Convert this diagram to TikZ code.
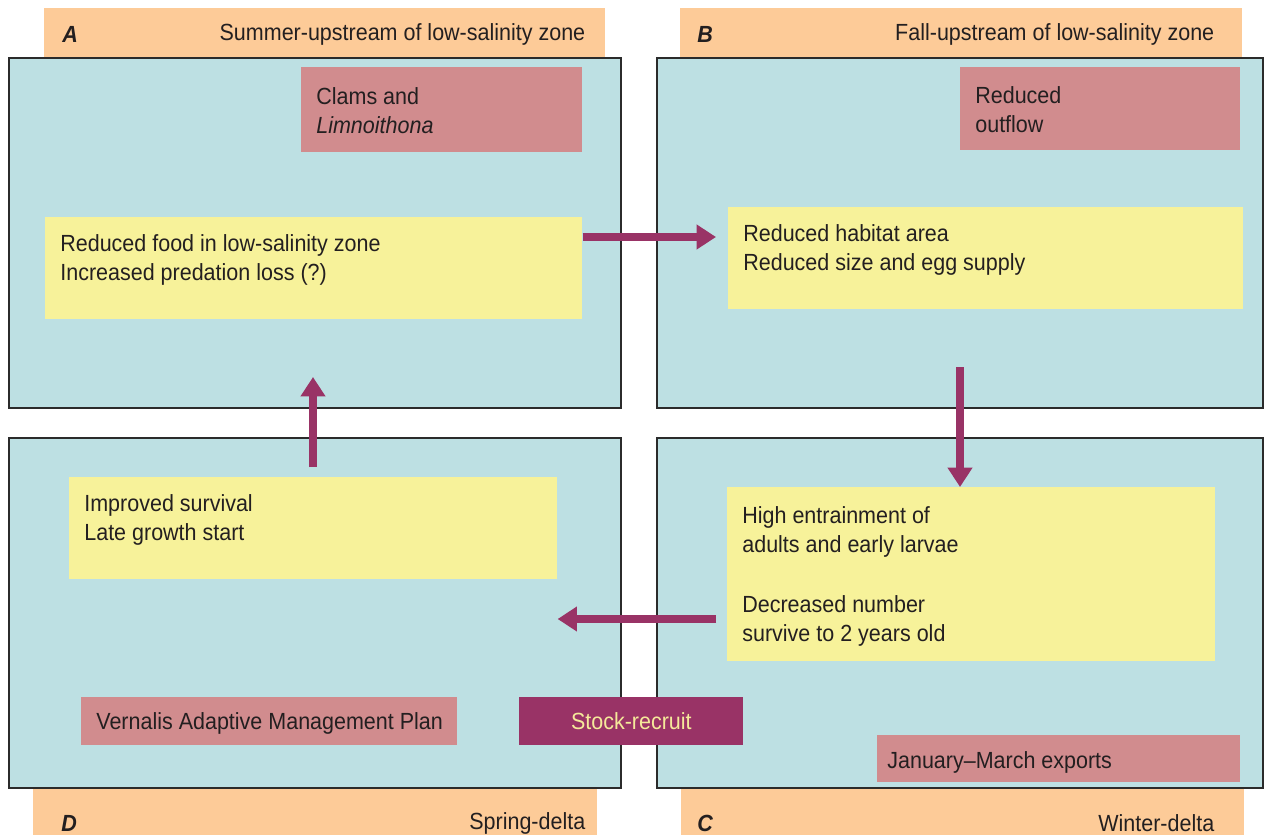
\documentclass[tikz,border=0pt]{standalone}
\usepackage{fontspec}
\setmainfont[FakeStretch=0.92]{Liberation Sans}
\usepackage{tikz}
\usetikzlibrary{positioning,calc,arrows.meta}

\definecolor{panelbg}{HTML}{BDE0E3}
\definecolor{tabor}{HTML}{FDCB98}
\definecolor{boxyel}{HTML}{F7F29A}
\definecolor{boxpink}{HTML}{D18C8E}
\definecolor{plum}{HTML}{993366}
\definecolor{edgegray}{HTML}{2B2B2B}
\definecolor{ink}{HTML}{231F20}
\definecolor{paleyel}{HTML}{F5E99A}

\begin{document}
\begin{tikzpicture}[x=0.02cm,y=-0.02cm,
	panel/.style={draw=edgegray, line width=1pt, fill=panelbg, anchor=north west, minimum height=7cm, inner sep=0pt},
	tab/.style={fill=tabor, anchor=north west, inner sep=0pt},
	foodbox/.style={fill=boxyel, anchor=north west, inner sep=0pt},
	causebox/.style={fill=boxpink, anchor=north west, inner sep=0pt},
	txt/.style={align=left, anchor=west, inner sep=0pt, yshift=-0.04cm, text=ink, font=\fontsize{13.3}{16.5}\selectfont},
	letter/.style={txt, font=\fontsize{13.3}{16.5}\selectfont\bfseries\itshape},
	flow/.style={draw=plum, line width=4.5pt, -{Triangle[length=11pt,width=13.5pt]}}]
	\useasboundingbox (0,0) rectangle (1264,835);

	% season tabs
	\node[tab, minimum width=11.22cm, minimum height=0.98cm] (tA) at (44,8) {};
	\node[tab, minimum width=11.24cm, minimum height=0.98cm] (tB) at (680,8) {};
	\node[tab, minimum width=11.28cm, minimum height=0.96cm] (tD) at (33,787) {};
	\node[tab, minimum width=11.26cm, minimum height=0.96cm] (tC) at (681,787) {};

	\node[letter] (lA) at ([shift={(18,0)}]tA.west) {A};
	\node[txt, anchor=east] (nA) at ([shift={(-20,0)}]tA.east) {Summer-upstream of low-salinity zone};
	\node[letter] (lB) at ([shift={(17,0)}]tB.west) {B};
	\node[txt, anchor=east] (nB) at ([shift={(-28,0)}]tB.east) {Fall-upstream of low-salinity zone};
	\node[letter] (lD) at ([shift={(28,10)}]tD.west) {D};
	\node[txt, anchor=east] (nD) at ([shift={(-12,10)}]tD.east) {Spring-delta};
	\node[letter] (lC) at ([shift={(16,10)}]tC.west) {C};
	\node[txt, anchor=east] (nC) at ([shift={(-30,10)}]tC.east) {Winter-delta};

	% panels
	\node[panel, minimum width=12.24cm] (pA) at (8,57) {};
	\node[panel, minimum width=12.12cm] (pB) at (656,57) {};
	\node[panel, minimum width=12.24cm] (pD) at (8,437) {};
	\node[panel, minimum width=12.12cm] (pC) at (656,437) {};

	% effects
	\node[foodbox, minimum width=10.74cm, minimum height=2.04cm] (ya) at (45,217) {};
	\node[txt] (tya) at ([shift={(15,-10.5)}]ya.west) {Reduced food in low-salinity zone\\Increased predation loss (?)};
	\node[foodbox, minimum width=10.3cm, minimum height=2.04cm] (yb) at (728,207) {};
	\node[txt] (tyb) at ([shift={(15,-10.5)}]yb.west) {Reduced habitat area\\Reduced size and egg supply};
	\node[foodbox, minimum width=9.76cm, minimum height=3.48cm] (yc) at (727,487) {};
	\node[txt] (tyc) at ([shift={(15,0)}]yc.west) {High entrainment of\\adults and early larvae\\[18pt]Decreased number\\survive to 2 years old};
	\node[foodbox, minimum width=9.76cm, minimum height=2.04cm] (yd) at (69,477) {};
	\node[txt] (tyd) at ([shift={(15,-10.5)}]yd.west) {Improved survival\\Late growth start};

	% causes
	\node[causebox, minimum width=5.62cm, minimum height=1.7cm] (ca) at (301,67) {};
	\node[txt] (tca) at ([shift={(15,-1.5)}]ca.west) {Clams and\\\textit{Limnoithona}};
	\node[causebox, minimum width=5.6cm, minimum height=1.66cm] (cb) at (960,67) {};
	\node[txt] (tcb) at ([shift={(15,-1.5)}]cb.west) {Reduced\\outflow};
	\node[causebox, minimum width=7.26cm, minimum height=0.94cm] (cc) at (877,735) {};
	\node[txt] (tcc) at ([shift={(10,2)}]cc.west) {January--March exports};
	\node[causebox, minimum width=7.52cm, minimum height=0.96cm] (cd) at (81,697) {};
	\node[txt] (tcd) at ([shift={(15,0)}]cd.west) {Vernalis Adaptive Management Plan};

	\node[fill=plum, anchor=north west, minimum width=4.48cm, minimum height=0.96cm, inner sep=0pt,
		text=paleyel, font=\fontsize{13.3}{16.5}\selectfont] (stock) at (519,697) {Stock-recruit};

	% flow between seasons
	\coordinate (ab) at (716,237);
	\coordinate (bc) at (960,367);
	\coordinate (cd0) at (716,619);
	\coordinate (da) at (313,467);
	\coordinate (da1) at (313,377);
	\draw[flow] (ya.east |- ab) -- (ab);
	\draw[flow] (bc) -- (bc |- yc.north);
	\draw[flow] (cd0) -- (yd.east |- cd0);
	\draw[flow] (da) -- (da1);
\end{tikzpicture}
\end{document}
